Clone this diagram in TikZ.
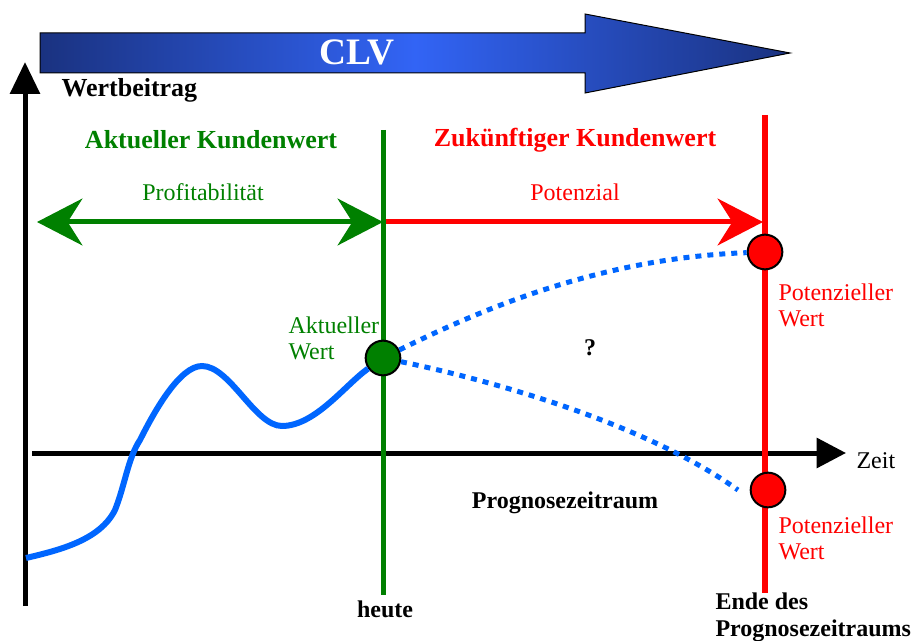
\documentclass[tikz,border=0pt]{standalone}
\usepackage{fontspec}
\setmainfont{Liberation Serif}
\usetikzlibrary{arrows.meta}

\definecolor{kgreen}{RGB}{0,128,0}
\definecolor{kred}{RGB}{255,0,0}
\definecolor{kblue}{RGB}{0,102,255}
\definecolor{clvdark}{RGB}{26,50,128}
\definecolor{clvlight}{RGB}{50,100,245}

\tikzset{every picture/.style={line width=0.75pt}}
\tikzset{
  bigtip/.tip={Stealth[length=34pt,width=35pt,inset=11pt]},
  yaxis/.style={line width=3.75pt,-{Triangle[length=24pt,width=22pt]}},
  xaxis/.style={line width=3.75pt,-{Triangle[length=22pt,width=22pt]}},
  span/.style={line width=3.75pt},
  trend/.style={kblue,line width=4.5pt},
  forecast/.style={kblue,line width=3.75pt,dash pattern=on 4.5pt off 4.5pt},
  dot/.style={circle,draw=black,line width=1.5pt,minimum size=26pt,inner sep=0pt},
  lbl/.style={inner sep=0pt,font=\fontsize{18}{19.5}\selectfont},
  bold/.style={inner sep=0pt,font=\bfseries\fontsize{18}{20}\selectfont},
  head/.style={inner sep=0pt,font=\bfseries\fontsize{19.5}{22}\selectfont},
  clvtext/.style={inner sep=0pt,text=white,font=\bfseries\fontsize{28}{30}\selectfont}
}

\begin{document}
\begin{tikzpicture}[x=0.75pt,y=0.75pt,yscale=-1,xscale=1]
        \useasboundingbox (0,0) rectangle (912,641);
        \shade[left color=clvdark,right color=clvdark,middle color=clvlight,draw=black] (40,33) -- (585,33) -- (585,14) -- (790,53) -- (585,93) -- (585,73) -- (40,73) -- cycle ;
        \node[clvtext] (clv) at (357,52) {CLV};

        \coordinate (yfoot) at (25,606);
        \coordinate (ytip) at (25,62);
        \coordinate (xfoot) at (32,453);
        \coordinate (xtip) at (846,453);
        \draw[yaxis] (yfoot) -- (ytip) ;
        \draw[xaxis] (xfoot) -- (xtip) ;
        \node[lbl,anchor=west] (zeit) at (856,461) {Zeit};
        \node[head,anchor=west] (wertbeitrag) at (61,90) {Wertbeitrag};

        \coordinate (pstart) at (37,222);
        \coordinate (pmid) at (383,222);
        \coordinate (pend) at (763,222);
        \draw[span,kgreen,bigtip-bigtip] (pstart) -- (pmid) ;
        \draw[span,kred,-bigtip] (pmid) -- (pend) ;

        \coordinate (heutetop) at (383,130);
        \coordinate (heutefoot) at (383,595);
        \coordinate (endetop) at (765,115);
        \coordinate (endefoot) at (765,593);
        \draw[kgreen,line width=3.75pt] (heutetop) -- (heutefoot) ;
        \draw[kred,line width=4.5pt] (endetop) -- (endefoot) ;

        \node[head,text=kgreen] (aktuell) at (211,140) {Aktueller Kundenwert};
        \node[head,text=kred] (zukunft) at (575,140) {Zukünftiger Kundenwert};
        \node[lbl,text=kgreen] (profit) at (203,192) {Profitabilität};
        \node[lbl,text=kred] (potenzial) at (575,192) {Potenzial};

        \node[dot,fill=kgreen] (now) at (383,358) {};
        \node[dot,fill=kred] (high) at (765,252) {};
        \node[dot,fill=kred] (low) at (768,490) {};
        \coordinate (origin) at (26,558);
        \coordinate (lowend) at (738,490);
        \draw[trend] (origin) .. controls (60,550) and (100,540) .. (115,510) .. controls (125,485) and (128,458) .. (140,440) .. controls (155,410) and (180,366) .. (202,366) .. controls (230,366) and (255,426) .. (282,426) .. controls (315,426) and (345,385) .. (now) ;
        \draw[forecast] (now) .. controls (480,310) and (600,258) .. (high) ;
        \draw[forecast] (now) .. controls (480,378) and (640,420) .. (lowend) ;

        \node[lbl,text=kgreen,align=left,anchor=west] (aktwert) at (288,338) {Aktueller\\Wert};
        \node[lbl,text=kred,align=left,anchor=west] (pothigh) at (778,305) {Potenzieller\\Wert};
        \node[lbl,text=kred,align=left,anchor=west] (potlow) at (778,538) {Potenzieller\\Wert};
        \node[bold] (frage) at (590,348) {?};
        \node[bold] (zeitraum) at (565,503) {Prognosezeitraum};
        \node[bold] (heute) at (385,609) {heute};
        \node[bold,align=left,anchor=west] (ende) at (715,617) {Ende des\\Prognosezeitraums};
    \end{tikzpicture}
\end{document}
